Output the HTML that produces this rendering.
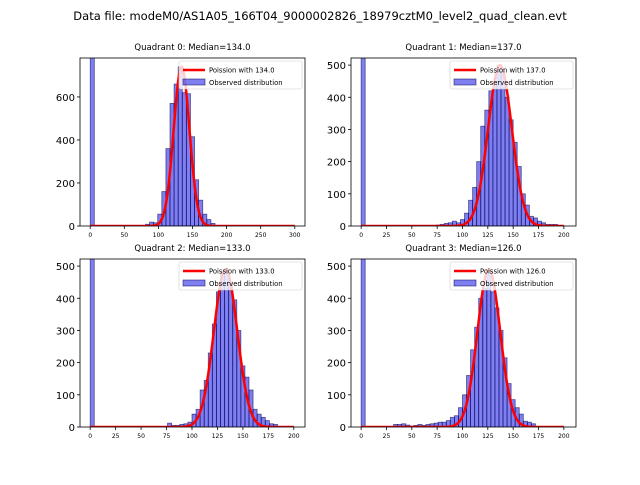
<!DOCTYPE html>
<html><head><meta charset="utf-8"><style>
body{margin:0;background:#fff;width:640px;height:480px;overflow:hidden}
svg{font-family:"DejaVu Sans","Liberation Sans",sans-serif}
</style></head><body>
<svg id="c" width="640" height="480">
<text x="320" y="20" text-anchor="middle" font-size="11.5">Data file: modeM0/AS1A05_166T04_9000002826_18979cztM0_level2_quad_clean.evt</text>
</svg>
<script>
const medians=[134.0,137.0,133.0,126.0];
const peakHeights=[740,500,490,490];
const spikeCounts=[2000,2000,2000,2000];
const binWidths=[6,4,4,4];
const q0Centers=[84,90,96,102,108,114,120,126,132,138,144,150,156,162,168,174,180,186];
const q0Counts=[8,18,15,55,160,360,570,660,740,620,615,415,215,120,55,30,12,3];
const q1Centers=[76,80,84,88,92,96,100,104,108,112,116,120,124,128,132,136,140,144,148,152,156,160,164,168,172,176,180,184,188,192];
const q1Counts=[3,5,8,10,15,10,20,40,80,120,200,310,360,420,450,500,480,400,330,260,185,100,65,30,25,15,10,5,5,5];
const q2Centers=[78,82,86,90,94,98,102,106,110,114,118,122,126,130,134,138,142,146,150,154,158,162,166,170,174,178,182];
const q2Counts=[12,5,5,8,10,15,40,55,115,145,230,320,420,480,490,450,395,300,190,155,115,55,40,30,20,10,8];
const q3Centers=[34,38,42,46,50,54,58,62,66,70,74,78,82,86,90,94,98,102,106,110,114,118,122,126,130,134,138,142,146,150,154,158,162,166,170];
const q3Counts=[8,8,10,6,3,5,8,5,8,10,12,15,15,20,30,35,60,100,160,240,310,400,430,490,420,370,300,215,135,85,60,40,18,15,10];
const xTicks0=[0,50,100,150,200,250,300];
const xTicks=[0,25,50,75,100,125,150,175,200];
const yTicks0=[0,200,400,600];
const yTicks=[0,100,200,300,400,500];
const centers=[q0Centers,q1Centers,q2Centers,q3Centers];
const counts=[q0Counts,q1Counts,q2Counts,q3Counts];
const NS="http://www.w3.org/2000/svg";
const svg=document.getElementById('c');
const panels=[
 {x0:80,x1:305,y0:58,y1:226,xmin:-15,xmax:315,ymax:781,xt:xTicks0,yt:yTicks0},
 {x0:351,x1:576,y0:58,y1:226,xmin:-10,xmax:212,ymax:522,xt:xTicks,yt:yTicks},
 {x0:80,x1:305,y0:259,y1:427,xmin:-10,xmax:211,ymax:522,xt:xTicks,yt:yTicks},
 {x0:351,x1:576,y0:259,y1:427,xmin:-10,xmax:212,ymax:522,xt:xTicks,yt:yTicks}];
function mk(tag,attrs,parent){const e=document.createElementNS(NS,tag);for(const k in attrs)e.setAttribute(k,attrs[k]);(parent||svg).appendChild(e);return e;}
panels.forEach((p,i)=>{
 const g=mk('g',{});
 
 
 const sx=v=>p.x0+(v-p.xmin)/(p.xmax-p.xmin)*(p.x1-p.x0);
 const sy=v=>p.y1-v/p.ymax*(p.y1-p.y0);
 const cid='clip'+i;
 const cp=mk('clipPath',{id:cid},g);mk('rect',{x:p.x0,y:p.y0,width:p.x1-p.x0,height:p.y1-p.y0},cp);
 const data=mk('g',{'clip-path':'url(#'+cid+')'},g);
 const bw=binWidths[i];
 const allC=[bw/2].concat(centers[i]),allV=[spikeCounts[i]].concat(counts[i]);
 allC.forEach((c,j)=>{
  const r=mk('rect',{x:sx(c-bw/2),y:sy(allV[j]),width:sx(c+bw/2)-sx(c-bw/2),height:sy(0)-sy(allV[j]),fill:'rgba(0,0,230,0.5)',stroke:'rgba(0,0,80,0.6)','stroke-width':0.8},data);
  
  
 });
 const lam=medians[i],sd=Math.sqrt(lam),xm=(i==0?300:200);
 let d='';for(let x=0;x<=xm;x+=1){const v=peakHeights[i]*Math.exp(-Math.pow(x-lam,2)/(2*sd*sd));d+=(x?'L':'M')+sx(x).toFixed(2)+','+sy(v).toFixed(2);}
 const pl=mk('path',{d:d,fill:'none',stroke:'#ff0000','stroke-width':2.5},data);
 
 
 mk('rect',{x:p.x0,y:p.y0,width:p.x1-p.x0,height:p.y1-p.y0,fill:'none',stroke:'#000','stroke-width':0.8},g);
 p.xt.forEach(t=>{mk('line',{x1:sx(t),x2:sx(t),y1:p.y1,y2:p.y1+3,stroke:'#000','stroke-width':0.8},g);
  const tx=mk('text',{x:sx(t),y:p.y1+11,'font-size':6,'text-anchor':'middle'},g);tx.textContent=t;
  });
 p.yt.forEach(t=>{mk('line',{x1:p.x0-3,x2:p.x0,y1:sy(t),y2:sy(t),stroke:'#000','stroke-width':0.8},g);
  const tx=mk('text',{x:p.x0-5,y:sy(t)+4,'font-size':10,'text-anchor':'end'},g);tx.textContent=t;
  });
 const tt=mk('text',{x:(p.x0+p.x1)/2,y:p.y0-8,'font-size':8.5,'text-anchor':'middle'},g);
 tt.textContent='Quadrant '+i+': Median='+medians[i].toFixed(1);
 
 const lx=p.x1-126,ly=p.y0+3;
 const lg=mk('g',{},g);
 
 mk('rect',{x:lx,y:ly,width:123,height:28,rx:2,fill:'rgba(255,255,255,0.8)',stroke:'#ccc','stroke-width':0.6},lg);
 mk('line',{x1:lx+4,x2:lx+26,y1:ly+9,y2:ly+9,stroke:'#f00','stroke-width':2.5},lg);
 const l1=mk('text',{x:lx+30,y:ly+11.5,'font-size':6.8},lg);l1.textContent='Poission with '+medians[i].toFixed(1);
 mk('rect',{x:lx+4,y:ly+18,width:22,height:6,fill:'rgba(0,0,230,0.5)',stroke:'rgba(0,0,80,0.6)','stroke-width':0.8},lg);
 const l2=mk('text',{x:lx+30,y:ly+24,'font-size':6.8},lg);l2.textContent='Observed distribution';
});
</script>
</body></html>
